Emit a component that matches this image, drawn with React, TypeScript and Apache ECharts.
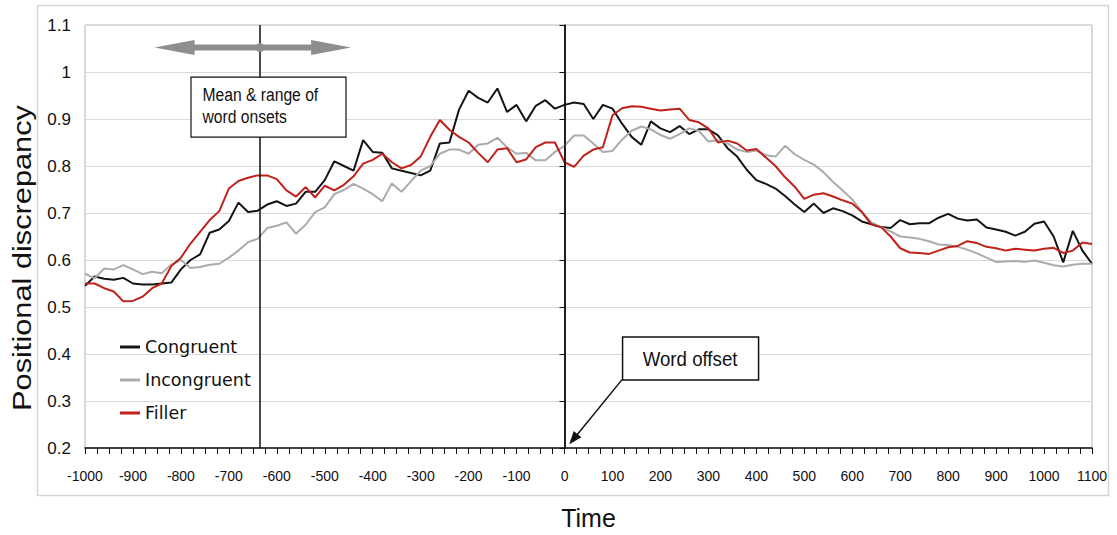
import React, { useEffect, useRef } from "react";
import * as echarts from "echarts";

// Time (ms) relative to word offset, one sample every 20 ms
const times = [
  -1000, -980, -960, -940, -920, -900, -880, -860, -840, -820,
  -800, -780, -760, -740, -720, -700, -680, -660, -640, -620,
  -600, -580, -560, -540, -520, -500, -480, -460, -440, -420,
  -400, -380, -360, -340, -320, -300, -280, -260, -240, -220,
  -200, -180, -160, -140, -120, -100, -80, -60, -40, -20,
  0, 20, 40, 60, 80, 100, 120, 140, 160, 180,
  200, 220, 240, 260, 280, 300, 320, 340, 360, 380,
  400, 420, 440, 460, 480, 500, 520, 540, 560, 580,
  600, 620, 640, 660, 680, 700, 720, 740, 760, 780,
  800, 820, 840, 860, 880, 900, 920, 940, 960, 980,
  1000, 1020, 1040, 1060, 1080, 1100,
];

const congruent = [
  0.545, 0.565, 0.56, 0.558, 0.562, 0.55, 0.548, 0.548, 0.55, 0.552,
  0.58, 0.6, 0.612, 0.658, 0.665, 0.683, 0.722, 0.702, 0.705, 0.718,
  0.725, 0.715, 0.72, 0.745, 0.745, 0.77, 0.81, 0.8, 0.79, 0.855,
  0.83, 0.828, 0.795, 0.79, 0.785, 0.78, 0.79, 0.848, 0.85, 0.92,
  0.96, 0.945, 0.935, 0.965, 0.915, 0.93, 0.895, 0.928, 0.94, 0.922,
  0.93, 0.935, 0.932, 0.9, 0.93, 0.922, 0.89, 0.862, 0.845, 0.895,
  0.88, 0.872, 0.885, 0.868, 0.878, 0.878, 0.865, 0.838, 0.82, 0.792,
  0.77, 0.762, 0.752, 0.736, 0.718, 0.702, 0.72, 0.7, 0.71, 0.704,
  0.695, 0.682, 0.676, 0.67, 0.668, 0.685, 0.676, 0.678, 0.678, 0.69,
  0.698, 0.688, 0.684, 0.686, 0.669, 0.665, 0.66, 0.652, 0.66, 0.677,
  0.682, 0.65, 0.595, 0.662, 0.62, 0.592,
];

const incongruent = [
  0.571, 0.561, 0.582, 0.58, 0.589, 0.58, 0.57, 0.575, 0.572, 0.59,
  0.6, 0.583, 0.585, 0.59, 0.592, 0.605, 0.62, 0.638, 0.645, 0.668,
  0.673, 0.68, 0.656, 0.675, 0.702, 0.712, 0.74, 0.749, 0.762, 0.752,
  0.74, 0.725, 0.763, 0.745, 0.768, 0.79, 0.8, 0.826, 0.835, 0.835,
  0.826, 0.845, 0.848, 0.86, 0.84, 0.826, 0.828, 0.812, 0.812, 0.83,
  0.843, 0.865, 0.865, 0.848, 0.83, 0.832, 0.856, 0.875, 0.884, 0.878,
  0.866, 0.858, 0.868, 0.88, 0.875, 0.852, 0.855, 0.848, 0.835, 0.83,
  0.833, 0.823, 0.82, 0.843, 0.825, 0.813, 0.803, 0.787, 0.766, 0.748,
  0.729, 0.703, 0.68, 0.67, 0.661, 0.65, 0.648, 0.645, 0.64, 0.633,
  0.632, 0.628, 0.622, 0.614, 0.605, 0.596, 0.597, 0.598, 0.596, 0.599,
  0.594, 0.589, 0.586, 0.59, 0.592, 0.592,
];

const filler = [
  0.55, 0.55, 0.54, 0.533, 0.512, 0.513, 0.522, 0.54, 0.55, 0.587,
  0.605, 0.635, 0.66, 0.685, 0.704, 0.752, 0.768, 0.775, 0.78, 0.78,
  0.772, 0.748, 0.735, 0.755, 0.733, 0.758, 0.748, 0.76, 0.778, 0.805,
  0.813, 0.826, 0.808, 0.795, 0.802, 0.82, 0.862, 0.898, 0.877, 0.862,
  0.85, 0.828, 0.808, 0.835, 0.838, 0.808, 0.814, 0.84, 0.85, 0.85,
  0.808, 0.798, 0.822, 0.835, 0.84, 0.908, 0.923, 0.927, 0.926, 0.922,
  0.918, 0.92, 0.922, 0.898, 0.893, 0.88, 0.85, 0.854, 0.848, 0.833,
  0.836, 0.818, 0.8, 0.776, 0.756, 0.73, 0.739, 0.742, 0.735, 0.727,
  0.72, 0.702, 0.676, 0.67, 0.65, 0.625, 0.616, 0.615, 0.613, 0.62,
  0.627, 0.63, 0.64, 0.636, 0.628, 0.625, 0.62, 0.624, 0.622, 0.62,
  0.624, 0.626, 0.615, 0.62, 0.637, 0.634,
];

const seriesNames = ["Congruent", "Incongruent", "Filler"];
const seriesColors = ["#141414", "#ababab", "#c0221b"];

// Reference times marked with vertical lines
const onsetMean = -635;
const wordOffset = 0;
// Range of word onsets (shown as a double-headed arrow)
const onsetRange = [-855, -445];

const SANS = "'Liberation Sans', Arial, Helvetica, sans-serif";

export default function App() {
  const ref = useRef<HTMLDivElement>(null);

  useEffect(() => {
    if (!ref.current) return;
    const chart = echarts.init(ref.current, undefined, { renderer: "svg" });

    const toPairs = (vals: number[]) => times.map((t, i) => [t, vals[i]]);
    const allValues = [congruent, incongruent, filler];

    chart.setOption({
      animation: false,
      backgroundColor: "#ffffff",
      grid: {
        left: 85,
        right: 25,
        top: 25,
        bottom: 81,
        show: true,
        borderColor: "#b5b5b5",
        borderWidth: 1,
      },
      legend: {
        orient: "vertical",
        left: 115,
        top: 332,
        icon: "rect",
        itemWidth: 20,
        itemHeight: 3,
        itemGap: 13,
        textStyle: {
          fontFamily: "'DejaVu Sans', Verdana, sans-serif",
          fontSize: 17.5,
          color: "#111",
          lineHeight: 20,
        },
        data: seriesNames,
      },
      xAxis: {
        type: "value",
        min: -1000,
        max: 1100,
        interval: 100,
        name: "Time",
        nameLocation: "middle",
        nameGap: 57,
        nameTextStyle: { fontFamily: SANS, fontSize: 25, color: "#111" },
        axisLine: { show: true, onZero: false, lineStyle: { color: "#111", width: 1.5 } },
        axisTick: { show: true, length: 6, lineStyle: { color: "#111", width: 1 } },
        minorTick: { show: true, splitNumber: 4, length: 6, lineStyle: { color: "#111", width: 1 } },
        splitLine: { show: false },
        axisLabel: {
          fontFamily: SANS,
          fontSize: 14,
          color: "#111",
          margin: 21,
          formatter: (v: number) => String(v),
        },
      },
      yAxis: {
        type: "value",
        min: 0.2,
        max: 1.1,
        interval: 0.1,
        axisLine: { show: true, lineStyle: { color: "#111", width: 1.5 } },
        axisTick: { show: true, length: 5, lineStyle: { color: "#111" } },
        splitLine: { show: true, lineStyle: { color: "#dadada", width: 1 } },
        axisLabel: {
          fontFamily: SANS,
          fontSize: 17,
          color: "#111",
          margin: 14,
          formatter: (v: number) => String(Math.round(v * 10) / 10),
        },
      },
      series: seriesNames.map((name, i) => ({
        name,
        type: "line",
        data: toPairs(allValues[i]),
        showSymbol: false,
        symbol: "none",
        lineStyle: { color: seriesColors[i], width: 2 },
        itemStyle: { color: seriesColors[i] },
        z: 3,
        markLine:
          i === 0
            ? {
                silent: true,
                symbol: "none",
                label: { show: false },
                lineStyle: { color: "#111", width: 1.5, type: "solid" },
                data: [{ xAxis: onsetMean }, { xAxis: wordOffset }],
              }
            : undefined,
      })),
    });

    // Annotations placed from data coordinates
    const px = (t: number, v: number) => chart.convertToPixel({ gridIndex: 0 }, [t, v]) as number[];
    const [lx, ay] = px(onsetRange[0], 1.052);
    const [rx] = px(onsetRange[1], 1.052);
    const [cx] = px(onsetMean, 1.052);
    const head = 40;
    const hh = 7.5;
    const sh = 3;
    const arrowGray = "#8e8e8e";

    const [b1x, b1y] = px(-780, 0.99);
    const [b2x, b2y] = px(120, 0.437);
    const b2w = 136;
    const b2h = 43;
    const tail = [b2x, b2y + b2h];
    const [tipX, tipY] = px(wordOffset + 10, 0.208);
    const dx = tipX - tail[0];
    const dy = tipY - tail[1];
    const len = Math.sqrt(dx * dx + dy * dy);
    const ux = dx / len;
    const uy = dy / len;
    const hl = 13;
    const hw = 5;
    const baseX = tipX - ux * hl;
    const baseY = tipY - uy * hl;

    chart.setOption({
      graphic: [
        {
          type: "rect",
          z: -10,
          silent: true,
          shape: { x: 37.5, y: 5.5, width: 1071, height: 490 },
          style: { fill: "none", stroke: "#d6d6d6", lineWidth: 1.5 },
        },
        // Vertical axis title
        {
          type: "text",
          z: 50,
          silent: true,
          x: 23,
          y: 258,
          rotation: Math.PI / 2,
          scaleX: 1.23,
          style: {
            text: "Positional discrepancy",
            fontFamily: SANS,
            fontSize: 25,
            fill: "#111",
            align: "center",
            verticalAlign: "middle",
          },
        },
        {
          type: "polygon",
          z: 50,
          silent: true,
          shape: {
            points: [
              [lx, ay],
              [lx + head, ay - hh],
              [lx + head, ay - sh],
              [rx - head, ay - sh],
              [rx - head, ay - hh],
              [rx, ay],
              [rx - head, ay + hh],
              [rx - head, ay + sh],
              [lx + head, ay + sh],
              [lx + head, ay + hh],
            ],
          },
          style: { fill: arrowGray },
        },
        {
          type: "circle",
          z: 51,
          silent: true,
          shape: { cx, cy: ay, r: 4.5 },
          style: { fill: arrowGray },
        },
        {
          type: "rect",
          z: 50,
          silent: true,
          shape: { x: b1x + 0.5, y: b1y + 0.5, width: 155, height: 60 },
          style: { fill: "#ffffff", stroke: "#111", lineWidth: 1.2 },
        },
        {
          type: "text",
          z: 51,
          silent: true,
          x: b1x + 12,
          y: b1y + 7,
          scaleX: 0.87,
          style: {
            text: "Mean & range of\nword onsets",
            fontFamily: SANS,
            fontSize: 18,
            lineHeight: 22,
            fill: "#111",
          },
        },
        {
          type: "rect",
          z: 50,
          silent: true,
          shape: { x: b2x + 0.5, y: b2y + 0.5, width: b2w, height: b2h },
          style: { fill: "#ffffff", stroke: "#111", lineWidth: 1.5 },
        },
        {
          type: "text",
          z: 51,
          silent: true,
          x: b2x + b2w / 2,
          y: b2y + b2h / 2,
          scaleX: 0.89,
          style: {
            text: "Word offset",
            fontFamily: SANS,
            fontSize: 21,
            fill: "#111",
            align: "center",
            verticalAlign: "middle",
          },
        },
        {
          type: "line",
          z: 50,
          silent: true,
          shape: { x1: tail[0], y1: tail[1], x2: baseX + ux * 2, y2: baseY + uy * 2 },
          style: { stroke: "#111", lineWidth: 1.5 },
        },
        {
          type: "polygon",
          z: 50,
          silent: true,
          shape: {
            points: [
              [tipX, tipY],
              [baseX - uy * hw, baseY + ux * hw],
              [baseX + uy * hw, baseY - ux * hw],
            ],
          },
          style: { fill: "#111" },
        },
      ],
    });

    return () => chart.dispose();
  }, []);

  return (
    <div
      ref={ref}
      style={{ position: "fixed", left: 0, top: 0, width: 1117, height: 535, background: "#fff" }}
    />
  );
}
